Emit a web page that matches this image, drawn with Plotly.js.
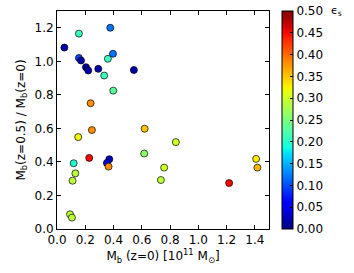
<!DOCTYPE html>
<html><head><meta charset="utf-8">
<script src="https://cdn.plot.ly/plotly-3.0.1.min.js"></script>
<style>html,body{margin:0;padding:0;background:#fff;}#chart{width:354px;height:273px;}</style>
</head><body><div id="chart"></div>
<script>
// Data
const mbZ0 = [0.052,0.155,0.377,0.155,0.170,0.205,0.221,0.292,0.360,0.396,0.334,0.544,0.398,0.238,0.247,0.620,0.150,0.228,0.118,0.370,0.353,0.365,0.130,0.110,0.092,0.106,0.617,0.841,0.758,0.735,1.409,1.418,1.218];
const mbRatio = [1.082,1.165,1.200,1.020,1.005,0.965,0.945,0.955,1.015,1.045,0.915,0.948,0.825,0.750,0.590,0.598,0.548,0.424,0.392,0.416,0.394,0.372,0.332,0.288,0.088,0.068,0.450,0.518,0.366,0.292,0.418,0.366,0.274];
const epsS = [0.02,0.21,0.12,0.10,0.02,0.01,0.02,0.02,0.21,0.12,0.21,0.02,0.23,0.38,0.38,0.35,0.32,0.45,0.20,0.03,0.04,0.38,0.29,0.29,0.29,0.29,0.26,0.30,0.30,0.29,0.33,0.36,0.45];
const xTicks = [0.0,0.2,0.4,0.6,0.8,1.0,1.2,1.4];
const yTicks = [0.0,0.2,0.4,0.6,0.8,1.0,1.2];
const cbTicks = [0.00,0.05,0.10,0.15,0.20,0.25,0.30,0.35,0.40,0.45,0.50];

// matplotlib "jet" colormap
function interp(pts, t){
  for(let i=0;i<pts.length-1;i++){
    const [a,va]=pts[i],[b,vb]=pts[i+1];
    if(t>=a && t<=b){return va+(vb-va)*(t-a)/(b-a);}
  }
  return pts[pts.length-1][1];
}
const R=[[0,0],[0.35,0],[0.66,1],[0.89,1],[1,0.5]];
const G=[[0,0],[0.125,0],[0.375,1],[0.64,1],[0.91,0],[1,0]];
const B=[[0,0.5],[0.11,1],[0.34,1],[0.65,0],[1,0]];
const jet=[];
for(let i=0;i<=40;i++){
  const t=i/40;
  jet.push([t,`rgb(${Math.round(255*interp(R,t))},${Math.round(255*interp(G,t))},${Math.round(255*interp(B,t))})`]);
}

const font={family:'DejaVu Sans, sans-serif',size:12,color:'#000'};
const trace={
  type:'scatter',mode:'markers',x:mbZ0,y:mbRatio,
  marker:{size:7,color:epsS,cmin:0,cmax:0.5,colorscale:jet,
    line:{color:'#000',width:0.7},
    colorbar:{x:1.061,xanchor:'left',xpad:0,y:0.5,yanchor:'middle',len:1,lenmode:'fraction',ypad:0,
      thickness:11,outlinecolor:'#000',outlinewidth:1,tickvals:cbTicks,ticktext:cbTicks.map(v=>v.toFixed(2)),
      ticks:'inside',ticklen:3,tickcolor:'#000',tickfont:font}},
  hoverinfo:'none'
};
const axisCommon={showgrid:false,zeroline:false,showline:true,linecolor:'#000',linewidth:1,mirror:'ticks',
  ticks:'inside',ticklen:4,tickcolor:'#000',tickfont:font};
const layout={
  width:354,height:273,margin:{l:57,r:85,t:11,b:44},
  paper_bgcolor:'#fff',plot_bgcolor:'#fff',showlegend:false,font:font,
  xaxis:Object.assign({},axisCommon,{range:[0,1.5],tickvals:xTicks,ticktext:xTicks.map(v=>v.toFixed(1)),
    title:{text:'M<sub>b</sub> (z=0) [10<sup>11</sup> M<sub>⊙</sub>]',font:font,standoff:4}}),
  yaxis:Object.assign({},axisCommon,{range:[0,1.3],tickvals:yTicks,ticktext:yTicks.map(v=>v.toFixed(1)),
    title:{text:'M<sub>b</sub>(z=0.5) / M<sub>b</sub>(z=0)',font:font,standoff:6}}),
  annotations:[{xref:'paper',yref:'paper',x:1.283,y:1.0,xanchor:'left',yanchor:'middle',showarrow:false,
    text:'ϵ<sub>s</sub>',font:{family:'DejaVu Sans, sans-serif',size:11,color:'#000'}}]
};
Plotly.newPlot('chart',[trace],layout,{displayModeBar:false,staticPlot:true});
</script></body></html>
